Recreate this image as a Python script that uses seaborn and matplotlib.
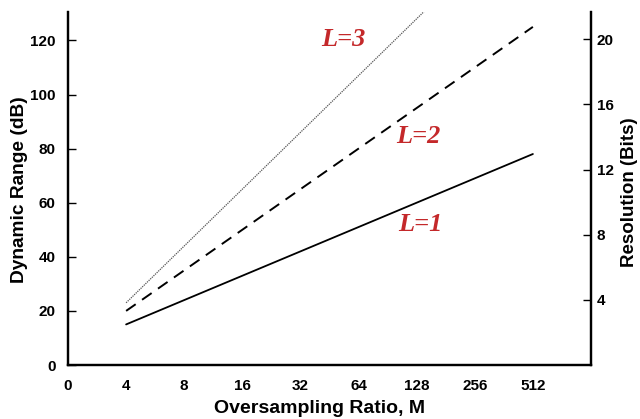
import numpy as np
import pandas as pd
import matplotlib
matplotlib.use('Agg')
import matplotlib.pyplot as plt
import seaborn as sns

# oversampling ratio and dynamic range (dB) per modulator order
ratio = [4, 8, 16, 32, 64, 128, 256, 512]
dr_l1 = [15, 24, 33, 42, 51, 60, 69, 78]
dr_l2 = [20, 35, 50, 65, 80, 95, 110, 125]
dr_l3 = [23, 44, 65, 86, 107, 128, 149, 170]

xtick_labels = ['0', '4', '8', '16', '32', '64', '128', '256', '512']
left_ticks = [0, 20, 40, 60, 80, 100, 120]
right_ticks = [4, 8, 12, 16, 20]
db_per_bit = 6.02

sns.set_style('white')
plt.rcParams['font.family'] = ['Liberation Sans', 'DejaVu Sans']
plt.rcParams['text.color'] = 'black'
plt.rcParams['xtick.color'] = 'black'
plt.rcParams['ytick.color'] = 'black'

df = pd.DataFrame({'log2M': np.log2(ratio), 'L1': dr_l1, 'L2': dr_l2, 'L3': dr_l3})

fig = plt.figure(figsize=(6.4, 4.19), dpi=100)
ax = fig.add_axes([68/640, 1 - 365/419, 523/640, 353/419])

sns.lineplot(data=df, x='log2M', y='L1', ax=ax, color='black', lw=1.3)
sns.lineplot(data=df, x='log2M', y='L2', ax=ax, color='black', lw=1.4)
sns.lineplot(data=df, x='log2M', y='L3', ax=ax, color='#555555', lw=0.9)
ax.lines[1].set_dashes([6, 4])
ax.lines[2].set_dashes([1, 0.8])

ax.set_xlim(1, 10)
ax.set_ylim(0, 130.5)
ax.set_xticks(np.arange(1, 10))
ax.set_xticklabels(xtick_labels)
ax.set_yticks(left_ticks)
ax.xaxis.get_major_ticks()[0].tick1line.set_visible(False)
ax.set_xlabel('')
ax.set_ylabel('')

ax.tick_params(axis='x', direction='in', length=6, width=1, pad=10, labelsize=11)
ax.tick_params(axis='y', direction='in', length=6, width=1, pad=9, labelsize=11)
for lab in ax.get_xticklabels() + ax.get_yticklabels():
    lab.set_fontweight('bold')

ax2 = ax.twinx()
ax2.set_ylim(0, 130.5 / db_per_bit)
ax2.set_yticks(right_ticks)
ax2.tick_params(axis='y', direction='in', length=6, width=1, pad=4, labelsize=11)
for lab in ax2.get_yticklabels():
    lab.set_fontweight('bold')

for a in (ax, ax2):
    a.spines['top'].set_visible(False)
    for s in ('left', 'bottom', 'right'):
        a.spines[s].set_linewidth(1.6)
        a.spines[s].set_color('black')

# axis titles placed in figure pixels
fig.text(320/640, 1 - 408/419, 'Oversampling Ratio, M', fontsize=14,
         fontweight='bold', ha='center', va='center')
fig.text(20/640, 1 - 190/419, 'Dynamic Range (dB)', fontsize=13.8,
         fontweight='bold', ha='center', va='center', rotation=90)
fig.text(630/640, 1 - 192/419, 'Resolution (Bits)', fontsize=13.5,
         fontweight='bold', ha='center', va='center', rotation=90)

red = '#c4282a'
for x, y, s in [(5.74, 120.4, 'L=3'), (7.03, 84.4, 'L=2'), (7.07, 51.9, 'L=1')]:
    ax.text(x, y, s, color=red, fontsize=19, style='italic', fontweight='bold',
            family='Liberation Serif', ha='center', va='center')

fig.savefig('out.png', dpi=100)
